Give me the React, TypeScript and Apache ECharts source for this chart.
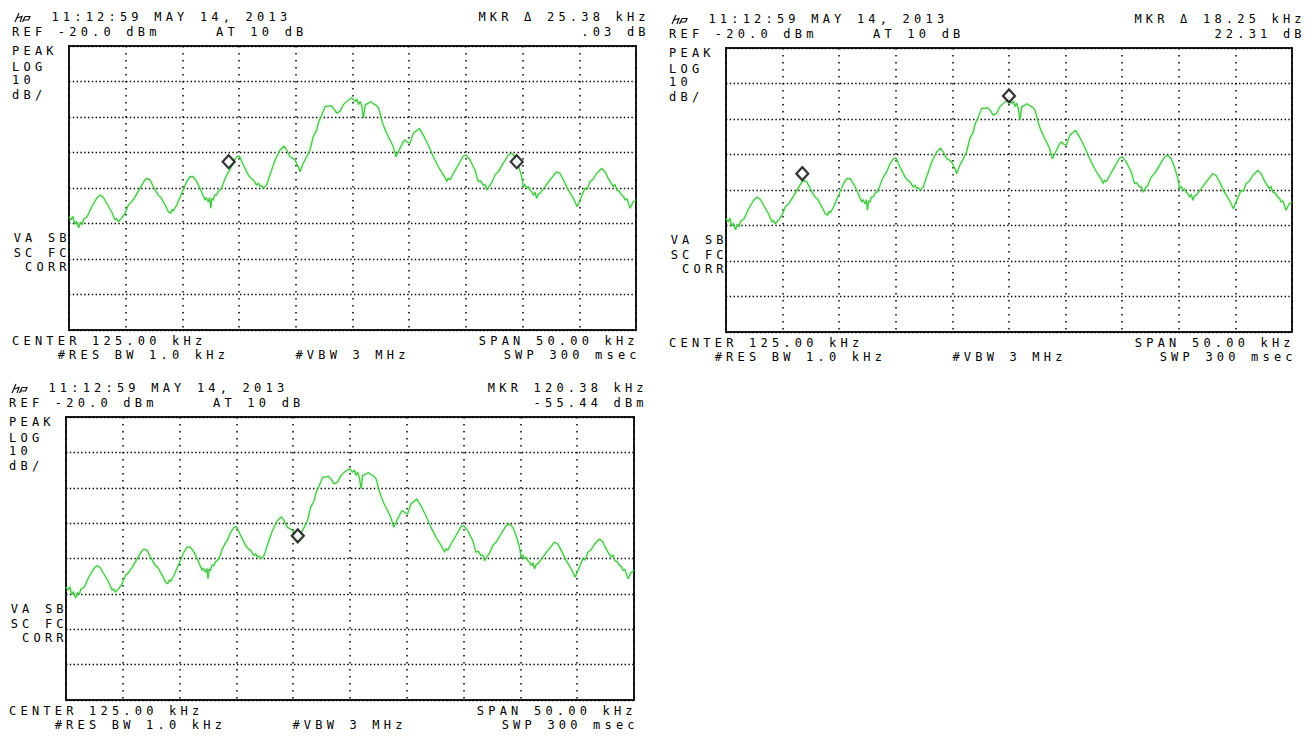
import React, { useEffect, useRef } from "react";
import * as echarts from "echarts";

// ---- trace (same sweep shown in all three screens) ----
const freqKHz = [
  100.0, 100.2, 100.35, 100.5, 100.65, 100.85, 101.0, 101.15, 101.3, 101.6,
  102.0, 102.44, 102.73, 103.02, 103.32, 103.76, 104.06, 104.2, 104.35, 104.64,
  104.94, 105.23, 105.53, 105.82, 106.26, 106.7, 106.85, 107.14, 107.43, 107.87,
  108.1, 108.32, 108.55, 108.76, 108.97, 109.1, 109.2, 109.5, 109.94, 110.38,
  110.67, 110.96, 111.26, 111.55, 111.99, 112.1, 112.28, 112.4, 112.5, 112.6,
  112.72, 112.85, 113.02, 113.15, 113.32, 113.5, 113.76, 114.0, 114.2, 114.49,
  114.79, 115.02, 115.37, 115.81, 116.05, 116.25, 116.55, 116.7, 116.84, 117.0,
  117.13, 117.43, 117.72, 118.17, 118.61, 118.96, 119.2, 119.49, 119.7, 119.93,
  120.22, 120.37, 120.66, 120.96, 121.25, 121.54, 121.84, 122.0, 122.28, 122.59,
  122.88, 123.1, 123.32, 123.61, 123.91, 124.2, 124.5, 124.94, 125.1, 125.24,
  125.4, 125.53, 125.68, 125.82, 125.97, 126.12, 126.41, 126.6, 126.86, 127.1,
  127.3, 127.57, 127.72, 128.01, 128.31, 128.6, 128.84, 129.04, 129.34, 129.5,
  129.63, 129.85, 130.07, 130.36, 130.89, 131.24, 131.68, 132.13, 132.57, 133.01,
  133.15, 133.31, 133.45, 133.6, 133.89, 134.33, 134.77, 135.01, 135.36, 135.8,
  136.09, 136.3, 136.53, 136.7, 136.83, 137.13, 137.3, 137.57, 137.86, 138.3,
  138.74, 139.04, 139.33, 139.62, 139.92, 140.06, 140.2, 140.36, 140.5, 140.65,
  140.8, 140.95, 141.1, 141.24, 141.4, 141.53, 141.98, 142.42, 143.0, 143.3,
  143.59, 144.03, 144.47, 144.82, 145.06, 145.5, 145.7, 145.94, 146.2, 146.53,
  146.97, 147.27, 147.5, 147.71, 148.0, 148.15, 148.3, 148.5, 148.74, 148.9,
  149.03, 149.2, 149.47, 149.76, 150.0,
];
const levelDbm = [
  -68.1, -68.9, -68.0, -70.2, -69.4, -71.2, -69.6, -70.3, -68.7, -68.1,
  -65.3, -62.9, -62.0, -62.6, -64.3, -66.7, -69.0, -68.6, -69.5, -68.5,
  -67.1, -64.8, -63.9, -62.5, -60.1, -57.7, -57.3, -57.7, -59.6, -62.0,
  -62.6, -63.9, -65.2, -66.7, -67.1, -66.0, -66.5, -64.8, -61.5, -58.2,
  -56.8, -56.8, -58.2, -60.1, -63.4, -62.7, -63.9, -62.8, -65.7, -63.0,
  -63.4, -61.9, -62.0, -60.9, -60.6, -59.7, -57.3, -55.8, -54.9, -52.6,
  -51.2, -51.0, -53.5, -56.3, -57.3, -57.7, -59.2, -58.6, -59.6, -59.3,
  -60.1, -59.2, -56.3, -52.1, -49.3, -48.2, -49.3, -51.2, -51.5, -52.1,
  -54.0, -55.4, -53.0, -51.2, -49.3, -45.5, -43.7, -41.5, -39.5, -37.0,
  -37.0, -36.8, -37.5, -38.9, -38.4, -36.5, -35.6, -34.6, -35.2, -35.6,
  -35.0, -36.5, -35.6, -37.0, -40.3, -36.5, -36.1, -35.7, -36.3, -36.7,
  -37.5, -40.8, -42.3, -44.6, -46.5, -48.4, -51.2, -49.8, -47.9, -46.8,
  -46.5, -47.1, -47.4, -44.6, -43.2, -45.1, -47.9, -51.2, -54.0, -56.3,
  -57.0, -58.2, -57.2, -57.7, -55.9, -53.5, -51.0, -50.7, -52.1, -54.9,
  -58.2, -58.0, -59.2, -59.0, -60.6, -59.2, -58.4, -56.3, -55.4, -53.0,
  -50.7, -50.2, -51.2, -53.5, -56.8, -59.6, -59.0, -60.1, -59.6, -60.6,
  -61.0, -62.0, -61.2, -62.9, -61.6, -61.5, -59.6, -57.7, -55.4, -55.9,
  -57.7, -60.6, -62.9, -65.3, -63.4, -60.1, -60.4, -58.2, -57.6, -55.9,
  -54.5, -55.4, -57.0, -58.2, -59.6, -59.0, -60.6, -60.8, -62.0, -62.3,
  -63.4, -63.0, -65.7, -63.9, -63.4,
];

// ---- axes: center 125 kHz, span 50 kHz; ref -20 dBm, 10 dB/div ----
const X_MIN = 100;
const X_MAX = 150;
const X_STEP = 5;
const Y_MIN = -100;
const Y_MAX = -20;
const Y_STEP = 10;

// ---- marker positions per screen ----
const markers1 = [[114.08, -52.6], [139.48, -52.6]];
const markers2 = [[106.74, -55.4], [125.0, -33.5]];
const markers3 = [[120.4, -53.6]];

// ---- annotation texts ----
const timestampText = "11:12:59 MAY 14, 2013";
const refText = "REF -20.0 dBm";
const attenText = "AT 10 dB";
const leftTopLabels = ["PEAK", "LOG", "10", "dB/"];
const leftMidLabels = ["VA SB", "SC FC", "CORR"];
const centerText = "CENTER 125.00 kHz";
const resBwText = "#RES BW 1.0 kHz";
const vbwText = "#VBW 3 MHz";
const spanText = "SPAN 50.00 kHz";
const swpText = "SWP 300 msec";
const mkrReadouts = [
  ["MKR \u0394 25.38 kHz", ".03 dB"],
  ["MKR \u0394 18.25 kHz", "22.31 dB"],
  ["MKR 120.38 kHz", "-55.44 dBm"],
];

const frames = [
  { left: 69, top: 46, width: 567, height: 284 },
  { left: 726, top: 48, width: 566, height: 284 },
  { left: 66, top: 417, width: 568, height: 283 },
];

const LS = 4.2;
const FONT = '12px "DejaVu Sans Mono", monospace';

echarts.graphic.registerShape(
  "hplogo",
  echarts.graphic.extendPath(
    "M5,0 L1,9 M3,5 L8,3.5 L6,9 M11,3.5 L8.5,9 M11,3.5 L16,3.5 L14.5,7 L9.7,7",
    {}
  )
);

function txt(x: number, y: number, text: string, align: string = "left") {
  return {
    type: "text",
    x: align === "right" ? x + LS + 0.6 : x - 0.6,
    y,
    silent: true,
    style: {
      text,
      font: FONT,
      fill: "#000",
      align,
      verticalAlign: "middle",
      textAlign: align,
      textVerticalAlign: "middle",
    },
  };
}

function panelGraphics(i: number) {
  const f = frames[i];
  const L = f.left;
  const T = f.top;
  const R = f.left + f.width;
  const B = f.top + f.height;
  const els: any[] = [];
  els.push({
    type: "hplogo",
    x: L - 55,
    y: T - 33,
    silent: true,
    style: { fill: "none", stroke: "#111", lineWidth: 1.2 },
  });
  els.push(txt(L - 17, T - 29.3, timestampText));
  els.push(txt(L - 56.3, T - 14, refText));
  els.push(txt(L + 147.7, T - 14, attenText));
  els.push(txt(R + 9, T - 29.3, mkrReadouts[i][0], "right"));
  els.push(txt(R + 9, T - 14, mkrReadouts[i][1], "right"));
  const topOffsets = [4.5, 20.7, 34.3, 49.2];
  leftTopLabels.forEach((s, k) => els.push(txt(L - 56.3, T + topOffsets[k], s)));
  const midOffsets = [191.5, 206.5, 221];
  leftMidLabels.forEach((s, k) => els.push(txt(L - 3, T + midOffsets[k], s, "right")));
  els.push(txt(L - 56.3, B + 10.5, centerText));
  els.push(txt(L - 10.7, B + 25, resBwText));
  els.push(txt(L + 227, B + 25, vbwText));
  els.push(txt(R - 2, B + 10.5, spanText, "right"));
  els.push(txt(R, B + 25, swpText, "right"));
  return els;
}

export default function App() {
  const ref = useRef<HTMLDivElement>(null);
  useEffect(() => {
    if (!ref.current) return;
    const chart = echarts.init(ref.current, undefined, { renderer: "svg" });
    const trace = freqKHz.map((f, i) => [f, levelDbm[i]]);
    const markerSets = [markers1, markers2, markers3];
    const grids = frames.map((f) => ({
      left: f.left,
      top: f.top,
      width: f.width,
      height: f.height,
      show: true,
      borderColor: "#1a1a1a",
      borderWidth: 2,
      backgroundColor: "transparent",
    }));
    const xAxes = frames.map((_, i) => ({
      type: "value",
      gridIndex: i,
      min: X_MIN,
      max: X_MAX,
      interval: X_STEP,
      axisLabel: { show: false },
      axisTick: { show: false },
      axisLine: { show: false },
      splitLine: {
        show: true,
        lineStyle: { color: "#000", width: 1.5, type: [1.5, 5.5] },
      },
    }));
    const yAxes = frames.map((_, i) => ({
      type: "value",
      gridIndex: i,
      min: Y_MIN,
      max: Y_MAX,
      interval: Y_STEP,
      axisLabel: { show: false },
      axisTick: { show: false },
      axisLine: { show: false },
      splitLine: {
        show: true,
        lineStyle: { color: "#000", width: 1.4, type: [1.4, 2.4] },
      },
    }));
    const series: any[] = [];
    frames.forEach((_, i) => {
      series.push({
        type: "line",
        xAxisIndex: i,
        yAxisIndex: i,
        data: trace,
        showSymbol: false,
        silent: true,
        z: 2,
        lineStyle: {
          color: "#42c442",
          width: 1.2,
          shadowColor: "rgba(90,215,90,0.6)",
          shadowBlur: 3,
        },
      });
      series.push({
        type: "scatter",
        xAxisIndex: i,
        yAxisIndex: i,
        data: markerSets[i],
        symbol: "diamond",
        symbolSize: [12, 13],
        silent: true,
        z: 5,
        itemStyle: { color: "#ffffff", borderColor: "#000", borderWidth: 2.2 },
      });
    });
    chart.setOption({
      animation: false,
      backgroundColor: "#ffffff",
      grid: grids,
      xAxis: xAxes,
      yAxis: yAxes,
      series,
      graphic: [0, 1, 2].flatMap((i) => panelGraphics(i)),
    });
    return () => chart.dispose();
  }, []);
  return (
    <div
      ref={ref}
      style={{
        position: "absolute",
        left: 0,
        top: 0,
        width: 1315,
        height: 736,
        letterSpacing: LS + "px",
        background: "#fff",
      }}
    />
  );
}
